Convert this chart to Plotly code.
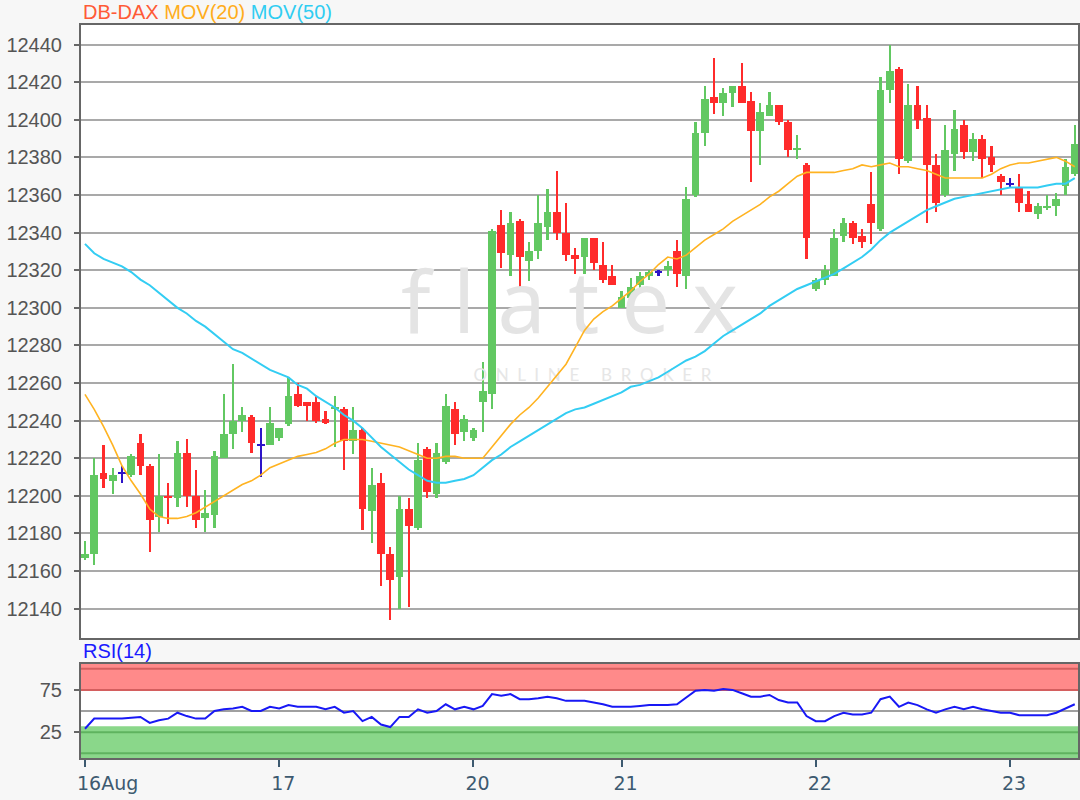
import plotly.graph_objects as go

# ---------------- data ----------------
tick_labels = ["16Aug", "17", "20", "21", "22", "23"]
tick_positions = [0, 21, 42, 58, 79, 100]

open_ = [12167, 12169, 12212, 12208, 12212, 12211, 12228, 12216, 12189, 12200,
         12199, 12223, 12200, 12188, 12190, 12220, 12233, 12240, 12242, 12227,
         12227, 12231, 12238, 12254, 12250, 12250, 12241, 12246, 12246, 12229,
         12235, 12192, 12207, 12169, 12157, 12193, 12183, 12225, 12201, 12218,
         12246, 12234, 12231, 12250, 12254, 12344, 12328, 12346, 12325, 12330,
         12343, 12351, 12340, 12328, 12327, 12337, 12323, 12317, 12300, 12305,
         12312, 12317, 12319, 12320, 12330, 12317, 12360, 12393, 12412, 12409,
         12414, 12418, 12410, 12394, 12402, 12408, 12399, 12384, 12376, 12310,
         12315, 12317, 12338, 12345, 12338, 12355, 12342, 12416, 12427, 12378,
         12408, 12401, 12376, 12360, 12382, 12397, 12383, 12390, 12380, 12370,
         12366, 12364, 12355, 12350, 12353, 12354, 12365, 12371]
high_ = [12176, 12220, 12227, 12215, 12216, 12222, 12233, 12217, 12222, 12207,
         12229, 12230, 12214, 12203, 12224, 12254, 12270, 12247, 12243, 12236,
         12247, 12236, 12263, 12260, 12250, 12253, 12245, 12253, 12247, 12247,
         12236, 12215, 12212, 12173, 12200, 12199, 12228, 12226, 12228, 12254,
         12250, 12243, 12236, 12271, 12342, 12352, 12351, 12347, 12335, 12360,
         12363, 12373, 12356, 12332, 12337, 12337, 12335, 12323, 12309, 12316,
         12319, 12320, 12320, 12325, 12336, 12364, 12399, 12418, 12433, 12417,
         12418, 12430, 12415, 12409, 12415, 12408, 12400, 12392, 12377, 12316,
         12323, 12342, 12348, 12346, 12342, 12372, 12423, 12440, 12428, 12419,
         12418, 12408, 12382, 12397, 12405, 12400, 12393, 12392, 12386, 12371,
         12369, 12371, 12362, 12356, 12360, 12361, 12379, 12397]
low_ = [12166, 12163, 12204, 12201, 12207, 12210, 12211, 12170, 12181, 12185,
        12194, 12194, 12183, 12181, 12183, 12220, 12225, 12234, 12223, 12210,
        12227, 12229, 12237, 12247, 12240, 12239, 12238, 12226, 12214, 12222,
        12182, 12175, 12152, 12134, 12140, 12141, 12182, 12199, 12199, 12217,
        12227, 12229, 12229, 12234, 12246, 12321, 12317, 12310, 12314, 12326,
        12336, 12336, 12325, 12318, 12318, 12320, 12313, 12312, 12300, 12303,
        12309, 12315, 12317, 12317, 12311, 12310, 12359, 12386, 12403, 12402,
        12407, 12409, 12367, 12376, 12402, 12397, 12380, 12379, 12326, 12309,
        12312, 12317, 12335, 12334, 12332, 12334, 12341, 12409, 12371, 12377,
        12395, 12345, 12351, 12359, 12373, 12379, 12378, 12369, 12372, 12360,
        12364, 12351, 12351, 12347, 12352, 12349, 12360, 12370]
close_ = [12169, 12211, 12209, 12211, 12212, 12221, 12216, 12187, 12200, 12199,
          12223, 12200, 12187, 12191, 12221, 12233, 12240, 12243, 12228, 12227,
          12239, 12236, 12253, 12248, 12248, 12240, 12239, 12247, 12229, 12235,
          12193, 12206, 12169, 12155, 12193, 12184, 12219, 12202, 12223, 12248,
          12233, 12241, 12235, 12256, 12341, 12329, 12345, 12327, 12330, 12345,
          12351, 12340, 12328, 12326, 12337, 12324, 12315, 12312, 12306, 12311,
          12317, 12319, 12319, 12322, 12318, 12358, 12393, 12411, 12409, 12414,
          12418, 12409, 12394, 12404, 12408, 12399, 12384, 12385, 12337, 12315,
          12320, 12337, 12345, 12337, 12335, 12345, 12416, 12426, 12379, 12408,
          12400, 12376, 12356, 12384, 12395, 12383, 12390, 12379, 12376, 12367,
          12366, 12356, 12351, 12354, 12354, 12358, 12375, 12387]
mov20 = [12254, 12246, 12237, 12227, 12216, 12208, 12201, 12193, 12189, 12188,
         12188, 12189, 12191, 12194, 12197, 12200, 12203, 12206, 12208, 12211,
         12215, 12217, 12219, 12221, 12222, 12223, 12225, 12228, 12230, 12230,
         12230, 12229, 12228, 12227, 12226, 12224, 12222, 12220, 12220, 12221,
         12221, 12220, 12220, 12220, 12226, 12232, 12238, 12243, 12247, 12252,
         12258, 12264, 12270, 12279, 12288, 12294, 12298, 12301, 12305, 12309,
         12314, 12318, 12323, 12327, 12326, 12328, 12332, 12336, 12339, 12342,
         12346, 12349, 12352, 12355, 12359, 12362, 12366, 12370, 12372, 12372,
         12372, 12372, 12373, 12374, 12376, 12375, 12376, 12377, 12375, 12375,
         12374, 12373, 12371, 12369, 12369, 12369, 12369, 12369, 12371, 12374,
         12376, 12377, 12377, 12378, 12379, 12380, 12378, 12375]
mov50 = [12334, 12329, 12326, 12324, 12322, 12319, 12315, 12312, 12308, 12304,
         12300, 12297, 12293, 12290, 12286, 12282, 12278, 12276, 12273, 12270,
         12267, 12265, 12263, 12259, 12257, 12253, 12250, 12247, 12243, 12240,
         12236, 12231, 12226, 12222, 12218, 12214, 12211, 12208, 12207, 12207,
         12208, 12209, 12211, 12215, 12219, 12222, 12226, 12229, 12232, 12235,
         12238, 12241, 12244, 12246, 12247, 12249, 12251, 12253, 12255, 12258,
         12259, 12261, 12263, 12266, 12269, 12272, 12274, 12277, 12281, 12285,
         12288, 12291, 12294, 12297, 12301, 12304, 12307, 12310, 12312, 12314,
         12316, 12318, 12321, 12324, 12327, 12331, 12336, 12340, 12343, 12346,
         12349, 12352, 12354, 12356, 12358, 12359, 12360, 12361, 12362, 12363,
         12364, 12364, 12364, 12364, 12365, 12366, 12366, 12369]
rsi14 = [29, 41, 41, 41, 41, 42, 43, 36, 39, 41,
         48, 44, 41, 41, 50, 52, 53, 55, 50, 50,
         55, 53, 57, 55, 55, 55, 52, 55, 48, 50,
         38, 43, 34, 31, 43, 43, 52, 48, 50, 58,
         52, 55, 52, 56, 70, 68, 70, 64, 64, 65,
         67, 65, 62, 62, 62, 60, 58, 55, 55, 55,
         56, 57, 57, 57, 58, 66, 74, 75, 74, 76,
         75, 71, 67, 67, 69, 63, 60, 60, 44, 38,
         38, 44, 48, 46, 46, 48, 64, 67, 55, 60,
         57, 52, 48, 52, 55, 52, 55, 52, 50, 48,
         48, 45, 45, 45, 45, 48, 53, 58]
price_ticks = list(range(12140, 12441, 20))
rsi_ticks = [25, 75]

# ---------------- styling ----------------
GREEN = "#62c862"
RED = "#ff2b2b"
BLUE = "#2d14c8"
AXIS = "#666666"
LABEL = "#555555"
XLABEL = "#3d5a70"

n = len(close_)
idx = list(range(n))
X_RANGE = [-0.43, 107.35]
Y_RANGE = [12124.4, 12450.4]
R_RANGE = [-5.6, 105.6]

colors = [GREEN if c > o else (RED if c < o else BLUE) for o, c in zip(open_, close_)]
min_body = 1.1
body_h = [max(abs(c - o), min_body) for o, c in zip(open_, close_)]
body_base = [min(o, c) - (h - abs(c - o)) / 2 for o, c, h in zip(open_, close_, body_h)]
wick_h = [h - l for h, l in zip(high_, low_)]

fig = go.Figure()

# watermark (behind the data)
fx = X_RANGE[0] + 0.49 * (X_RANGE[1] - X_RANGE[0])
fy = Y_RANGE[0] + 0.532 * (Y_RANGE[1] - Y_RANGE[0])
bx = X_RANGE[0] + 0.513 * (X_RANGE[1] - X_RANGE[0])
by = Y_RANGE[0] + 0.426 * (Y_RANGE[1] - Y_RANGE[0])
fig.add_trace(go.Scatter(x=[fx], y=[fy], mode="text", text=["f l a t e x"],
                         textfont=dict(family="Noto Sans", size=86, color="#e4e4e4"),
                         hoverinfo="skip", showlegend=False, xaxis="x", yaxis="y"))
fig.add_trace(go.Scatter(x=[bx], y=[by], mode="text", text=["O  N  L  I  N  E     B  R  O  K  E  R"],
                         textfont=dict(family="Lato", size=17, color="#e6e6e6"),
                         hoverinfo="skip", showlegend=False, xaxis="x", yaxis="y"))

# wicks
fig.add_trace(go.Bar(x=idx, y=wick_h, base=low_, width=0.22,
                     marker=dict(color=colors, line=dict(width=0)),
                     hoverinfo="skip", showlegend=False, xaxis="x", yaxis="y"))
# bodies
fig.add_trace(go.Bar(x=idx, y=body_h, base=body_base, width=0.82,
                     marker=dict(color=colors, line=dict(width=0)),
                     showlegend=False, xaxis="x", yaxis="y"))
# moving averages
fig.add_trace(go.Scatter(x=idx, y=mov20, mode="lines", line=dict(color="#ffb321", width=1.6),
                         showlegend=False, xaxis="x", yaxis="y"))
fig.add_trace(go.Scatter(x=idx, y=mov50, mode="lines", line=dict(color="#33cdf3", width=2),
                         showlegend=False, xaxis="x", yaxis="y"))
# RSI
fig.add_trace(go.Scatter(x=idx, y=rsi14, mode="lines", line=dict(color="#1818f5", width=2),
                         showlegend=False, xaxis="x2", yaxis="y2"))

shapes = [
    dict(type="rect", xref="x2 domain", x0=0, x1=1, yref="y2", y0=74, y1=R_RANGE[1],
         fillcolor="#ff8a8a", line=dict(width=0), layer="below"),
    dict(type="rect", xref="x2 domain", x0=0, x1=1, yref="y2", y0=R_RANGE[0], y1=32,
         fillcolor="#8ad78a", line=dict(width=0), layer="below"),
]
for val, col in [(100, "#d45f5f"), (75, "#d45f5f"), (25, "#5fb35f"), (0, "#5fb35f"), (50, "#a0a0a0")]:
    shapes.append(dict(type="line", xref="x2 domain", x0=0, x1=1, yref="y2", y0=val, y1=val,
                       line=dict(color=col, width=2), layer="below"))

MAIN_DOMAIN = [0.1637, 1.0]
RSI_DOMAIN = [0.0, 0.1282]

fig.update_layout(
    width=1080, height=800,
    margin=dict(l=81, r=2, t=25, b=42, autoexpand=False),
    paper_bgcolor="#f7f7f7", plot_bgcolor="white",
    barmode="overlay", bargap=0,
    showlegend=False,
    shapes=shapes,
    xaxis=dict(domain=[0, 1], anchor="y", range=X_RANGE, showticklabels=False, ticks="",
               showgrid=False, zeroline=False, showline=True, mirror=True, automargin=False,
               linecolor=AXIS, linewidth=2),
    yaxis=dict(domain=MAIN_DOMAIN, anchor="x", range=Y_RANGE, tickvals=price_ticks,
               tickformat="d", automargin=False,
               ticks="outside", ticklen=5, tickwidth=2, tickcolor=AXIS,
               tickfont=dict(family="Liberation Sans", size=20, color=LABEL),
               ticklabelstandoff=8,
               showgrid=True, gridcolor="#a9a9a9", gridwidth=2, zeroline=False,
               showline=True, mirror=True, linecolor=AXIS, linewidth=2),
    xaxis2=dict(domain=[0, 1], anchor="y2", range=X_RANGE, matches="x", automargin=False,
                tickvals=tick_positions, ticktext=tick_labels,
                ticks="outside", ticklen=7, tickwidth=2, tickcolor=XLABEL,
                ticklabelposition="outside right", ticklabelshift=-10,
                ticklabelstandoff=7,
                tickfont=dict(family="DejaVu Sans", size=19, color=XLABEL),
                showgrid=False, zeroline=False, showline=True, mirror=True,
                linecolor=AXIS, linewidth=2),
    yaxis2=dict(domain=RSI_DOMAIN, anchor="x2", range=R_RANGE, tickvals=rsi_ticks,
                automargin=False,
                ticks="outside", ticklen=5, tickwidth=2, tickcolor=AXIS,
                tickfont=dict(family="Liberation Sans", size=20, color=LABEL),
                ticklabelstandoff=8,
                showgrid=False, zeroline=False, showline=True, mirror=True,
                linecolor=AXIS, linewidth=2),
    annotations=[
        dict(xref="paper", yref="paper", x=0, y=1, xanchor="left", yanchor="bottom",
             showarrow=False, xshift=0,
             text='<span style="color:#ff5a36">DB-DAX</span> '
                  '<span style="color:#ffad1c">MOV(20)</span> '
                  '<span style="color:#30cdf2">MOV(50)</span>',
             font=dict(family="Liberation Sans", size=20)),
        dict(xref="paper", yref="paper", x=0, y=RSI_DOMAIN[1], xanchor="left", yanchor="bottom",
             showarrow=False, text="RSI(14)",
             font=dict(family="Liberation Sans", size=20, color="#1a1aff")),
    ],
)

fig.write_html("out.html",
               config={"displayModeBar": False},
               post_script="document.body.style.margin='0';document.body.style.overflow='hidden';")
